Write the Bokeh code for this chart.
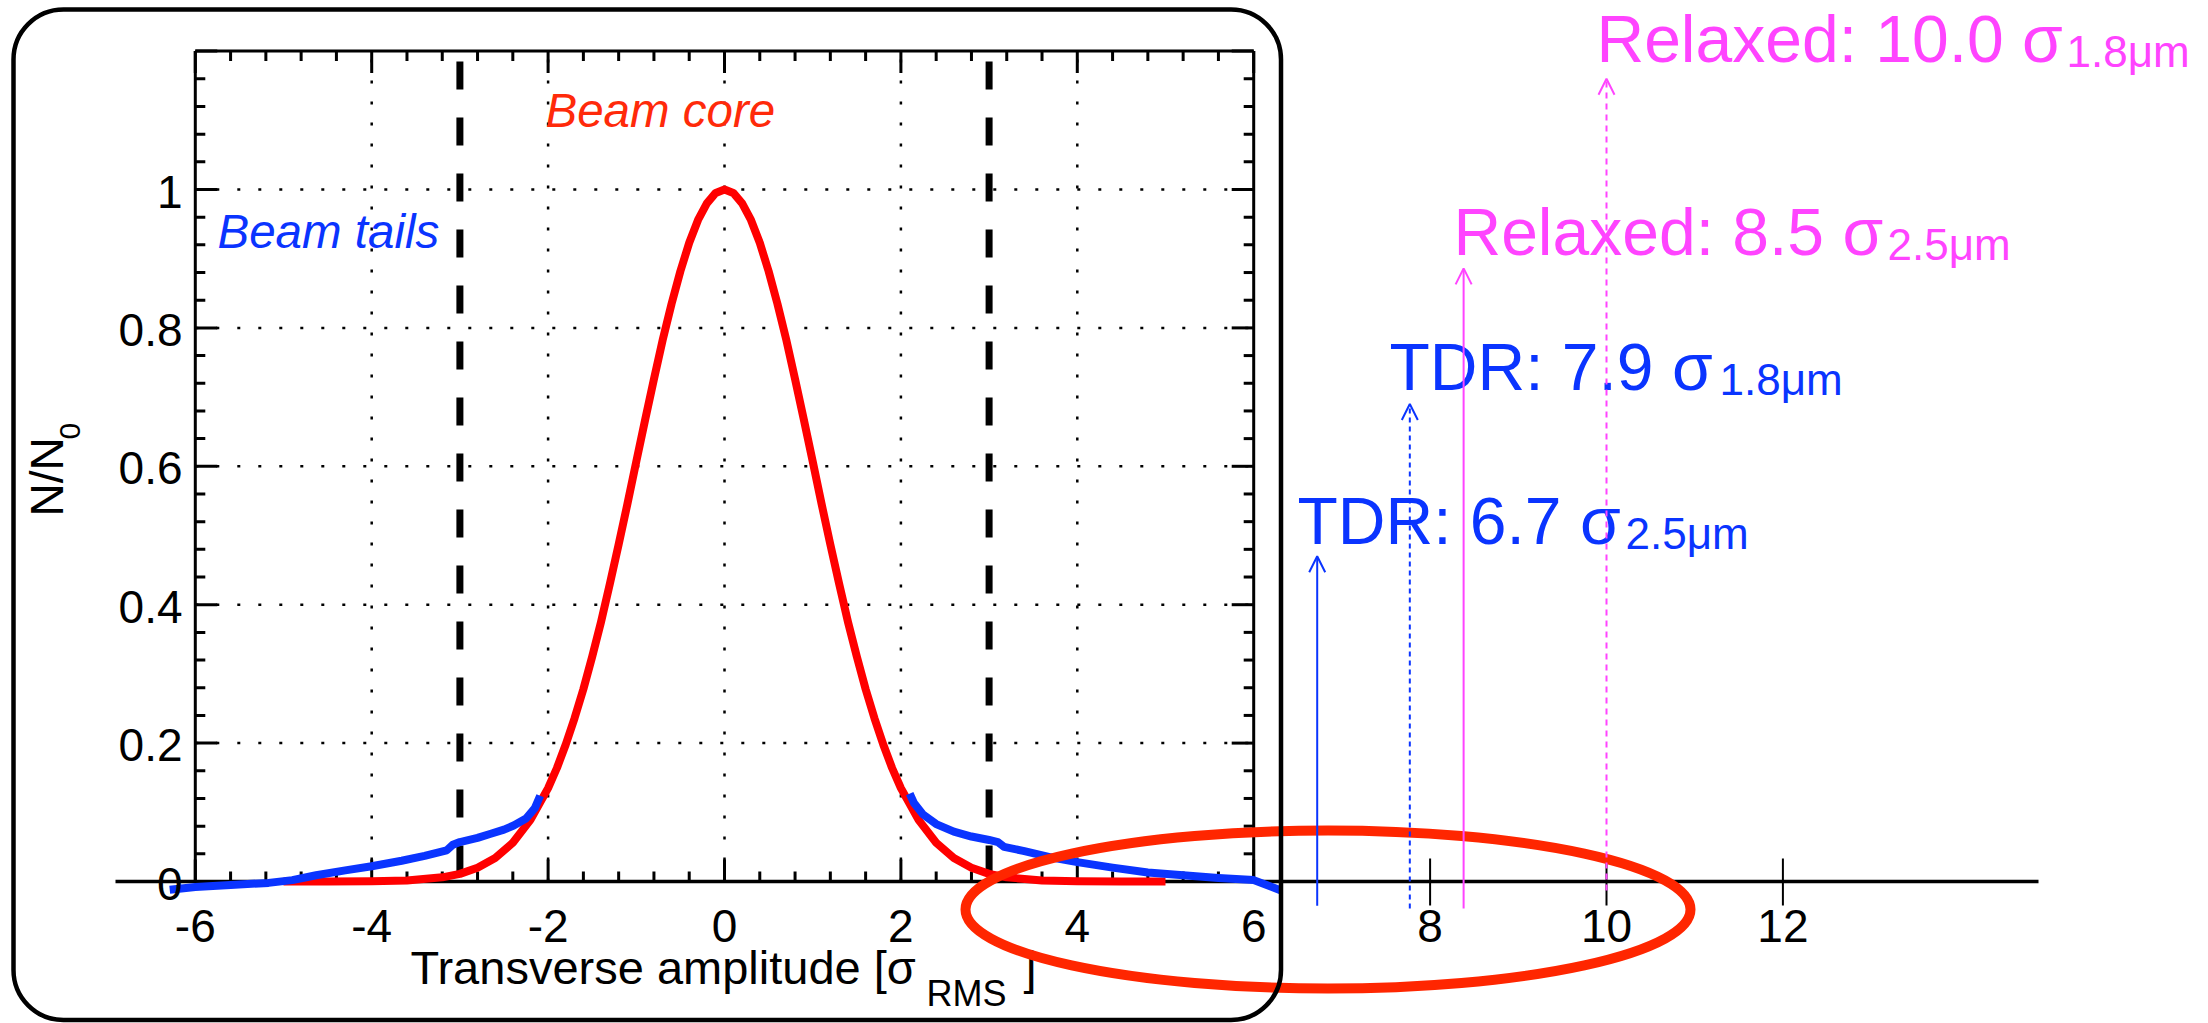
import math
from bokeh.plotting import figure
from bokeh.models import Range1d, BoxAnnotation, Arrow, OpenHead
from bokeh.core.properties import value
from bokeh.embed import file_html
from bokeh.resources import INLINE

# ---------------- data ----------------
core_x = [-5.0, -4.5, -4.0, -3.6, -3.2, -3.0, -2.8, -2.6, -2.4, -2.2, -2.0,
          -1.9, -1.8, -1.7, -1.6, -1.5, -1.4, -1.3, -1.2, -1.1, -1.0,
          -0.9, -0.8, -0.7, -0.6, -0.5, -0.4, -0.3, -0.2, -0.1, 0.0,
          0.1, 0.2, 0.3, 0.4, 0.5, 0.6, 0.7, 0.8, 0.9, 1.0,
          1.1, 1.2, 1.3, 1.4, 1.5, 1.6, 1.7, 1.8, 1.9, 2.0,
          2.2, 2.4, 2.6, 2.8, 3.0, 3.2, 3.6, 4.0, 4.5, 5.0]
core_y = [0.0, 0.00004, 0.0003, 0.0015, 0.006, 0.011, 0.020, 0.034, 0.056, 0.089, 0.135,
          0.164, 0.198, 0.236, 0.278, 0.325, 0.375, 0.430, 0.487, 0.546, 0.607,
          0.667, 0.726, 0.783, 0.835, 0.882, 0.923, 0.956, 0.980, 0.995, 1.0,
          0.995, 0.980, 0.956, 0.923, 0.882, 0.835, 0.783, 0.726, 0.667, 0.607,
          0.546, 0.487, 0.430, 0.375, 0.325, 0.278, 0.236, 0.198, 0.164, 0.135,
          0.089, 0.056, 0.034, 0.020, 0.011, 0.006, 0.0015, 0.0003, 0.00004, 0.0]

tail_left_x = [-6.29, -6.0, -5.6, -5.17, -4.9, -4.63, -4.3, -4.0, -3.66, -3.4, -3.15, -3.08,
               -3.0, -2.8, -2.65, -2.5, -2.39, -2.25, -2.15, -2.09]
tail_left_y = [-0.012, -0.008, -0.005, -0.002, 0.002, 0.009, 0.016, 0.022, 0.030, 0.037, 0.045, 0.053,
               0.057, 0.063, 0.069, 0.075, 0.081, 0.091, 0.106, 0.124]
tail_right_x = [2.10, 2.15, 2.25, 2.4, 2.6, 2.8, 3.0, 3.1, 3.17, 3.4, 3.7, 4.0, 4.4, 4.8, 5.2, 5.6, 6.0, 6.31]
tail_right_y = [0.127, 0.113, 0.097, 0.083, 0.072, 0.065, 0.060, 0.057, 0.050, 0.044, 0.035, 0.028,
                0.020, 0.013, 0.009, 0.005, 0.002, -0.013]

cut_x = [-3, 3]
x_inner_ticks = [-6, -4, -2, 0, 2, 4, 6]
x_inner_labels = ["-6", "-4", "-2", "0", "2", "4", "6"]
x_outer_ticks = [8, 10, 12]
x_outer_labels = ["8", "10", "12"]
y_ticks = [0, 0.2, 0.4, 0.6, 0.8, 1.0]
y_labels = ["0", "0.2", "0.4", "0.6", "0.8", "1"]
x_grid = [-4, -2, 0, 2, 4]
y_grid = [0.2, 0.4, 0.6, 0.8, 1.0]
x_min, x_max, y_top = -6, 6, 1.2

arrow_x = [6.72, 7.77, 8.38, 10.0]
arrow_top = [0.47, 0.69, 0.886, 1.16]
arrow_bottom = [-0.035, -0.039, -0.039, -0.013]
arrow_text = ["TDR: 6.7 σ", "TDR: 7.9 σ", "Relaxed: 8.5 σ", "Relaxed: 10.0 σ"]
arrow_sub = ["2.5μm", "1.8μm", "2.5μm", "1.8μm"]

# ---------------- layout ----------------
W, H = 2200, 1023
X0_PX, Y0_PX = 724.0, 881.0      # pixel of data (0, 0)
PX_X, PX_Y = 88.2, 692.0          # pixels per data unit


def dx(px):
    return (px - X0_PX) / PX_X


def dy(py):
    return (Y0_PX - py) / PX_Y


FONT = value("Liberation Sans")
BLUE = "#0A34FF"
PINK = "#FF44FF"
RED = "#FF0000"
ORANGE_RED = "#FF2600"

p = figure(width=W, height=H, output_backend="svg", toolbar_location=None,
           x_range=Range1d(dx(0), dx(W)),
           y_range=Range1d(dy(H), dy(0)),
           x_axis_type=None, y_axis_type=None, min_border=0)
p.outline_line_color = None
p.background_fill_color = "white"
p.border_fill_color = "white"


def label(xs, ys, texts, size, align="left", color="black", style="normal", angle=0.0):
    p.text(x=xs, y=ys, text=texts, angle=angle, text_font=FONT, text_font_size=size,
           text_font_style=style, text_align=align, text_baseline="middle", text_color=color)


# grid (dotted)
p.segment(x0=x_grid, y0=[0] * len(x_grid), x1=x_grid, y1=[y_top] * len(x_grid),
          line_color="black", line_width=2.5, line_dash="3 18")
p.segment(x0=[x_min] * len(y_grid), y0=y_grid, x1=[x_max] * len(y_grid), y1=y_grid,
          line_color="black", line_width=2.5, line_dash="3 18")

# +/- 3 sigma dashed lines
p.segment(x0=cut_x, y0=[dy(61)] * 2, x1=cut_x, y1=[0] * 2,
          line_color="black", line_width=7, line_dash="28 28")

# frame
p.segment(x0=[x_min, x_max, x_min], y0=[0, 0, y_top], x1=[x_min, x_max, x_max], y1=[y_top, y_top, y_top],
          line_color="black", line_width=3)

# ticks
MAJ, MIN = 22, 10
xm = [round(x_min + 0.4 * i, 2) for i in range(31)]
ym = [round(0.04 * i, 2) for i in range(31)]
xl = [MAJ if abs(v - round(v)) < 1e-6 and round(v) % 2 == 0 else MIN for v in xm]
yl = [MAJ if abs(v * 5 - round(v * 5)) < 1e-6 else MIN for v in ym]
p.segment(x0=xm, y0=[y_top] * len(xm), x1=xm, y1=[y_top - l / PX_Y for l in xl], line_color="black", line_width=3)
p.segment(x0=xm, y0=[0] * len(xm), x1=xm, y1=[l / PX_Y for l in xl], line_color="black", line_width=3)
p.segment(x0=[x_min] * len(ym), y0=ym, x1=[x_min + l / PX_X for l in yl], y1=ym, line_color="black", line_width=3)
p.segment(x0=[x_max] * len(ym), y0=ym, x1=[x_max - l / PX_X for l in yl], y1=ym, line_color="black", line_width=3)

# long horizontal axis + outer ticks
p.segment(x0=[dx(115)], y0=[0], x1=[dx(2038)], y1=[0], line_color="black", line_width=3.5)
p.segment(x0=x_outer_ticks, y0=[dy(858)] * 3, x1=x_outer_ticks, y1=[dy(905)] * 3,
          line_color="black", line_width=2)

# curves
p.line(core_x, core_y, line_color=RED, line_width=8, line_join="round")
p.line(tail_left_x, tail_left_y, line_color=BLUE, line_width=8, line_join="round")
p.line(tail_right_x, tail_right_y, line_color=BLUE, line_width=8, line_join="round")

# tick labels (y positions are glyph centres)
label(x_inner_ticks + x_outer_ticks, [dy(925)] * 10, x_inner_labels + x_outer_labels, "46px", align="center")
label([dx(182)] * len(y_ticks), [v - 2 / PX_Y for v in y_ticks], y_labels, "46px", align="right")

# axis titles
label([dx(410)], [dy(967)], ["Transverse amplitude [σ"], "47px")
label([dx(926)], [dy(993)], ["RMS"], "36px")
label([dx(1023)], [dy(967)], ["]"], "47px")
label([dx(46)], [dy(516)], ["N/N"], "46px", angle=math.pi / 2)
label([dx(69)], [dy(439)], ["0"], "30px", angle=math.pi / 2)

# in-plot labels
label([dx(217)], [dy(231)], ["Beam tails"], "47.5px", color=BLUE, style="italic")
label([dx(545)], [dy(110)], ["Beam core"], "47.5px", color="#FF2A0A", style="italic")

# aperture arrows and labels
arrow_colors = [BLUE, BLUE, PINK, PINK]
arrow_dash = ["solid", "5 4", "solid", "6 5"]
for i in range(4):
    c = arrow_colors[i]
    p.add_layout(Arrow(end=OpenHead(size=16, line_color=c, line_width=2),
                       x_start=arrow_x[i], y_start=arrow_bottom[i],
                       x_end=arrow_x[i], y_end=arrow_top[i],
                       line_color=c, line_width=2, line_dash=arrow_dash[i]))

label_left_px = [1297, 1389, 1453, 1596]
label_mid_px = [520, 366, 231, 38]
sub_left_px = [1625, 1719, 1887, 2066]
for i in range(4):
    c = arrow_colors[i]
    label([dx(label_left_px[i])], [dy(label_mid_px[i])], [arrow_text[i]], "66px", color=c)
    label([dx(sub_left_px[i])], [dy(label_mid_px[i] + 13)], [arrow_sub[i]], "44px", color=c)

# highlight ellipse
p.ellipse(x=[dx(1327.5)], y=[dy(909)], width=[725 / PX_X], height=[158 / PX_Y],
          fill_alpha=0, line_color=ORANGE_RED, line_width=10)

# rounded frame around the inset
p.add_layout(BoxAnnotation(left=dx(13), right=dx(1280.5), top=dy(9), bottom=dy(1019.5),
                           border_radius=50, fill_alpha=0, fill_color=None,
                           line_color="black", line_alpha=1.0, line_width=4.5))

open("out.html", "w").write(file_html(p, INLINE))
